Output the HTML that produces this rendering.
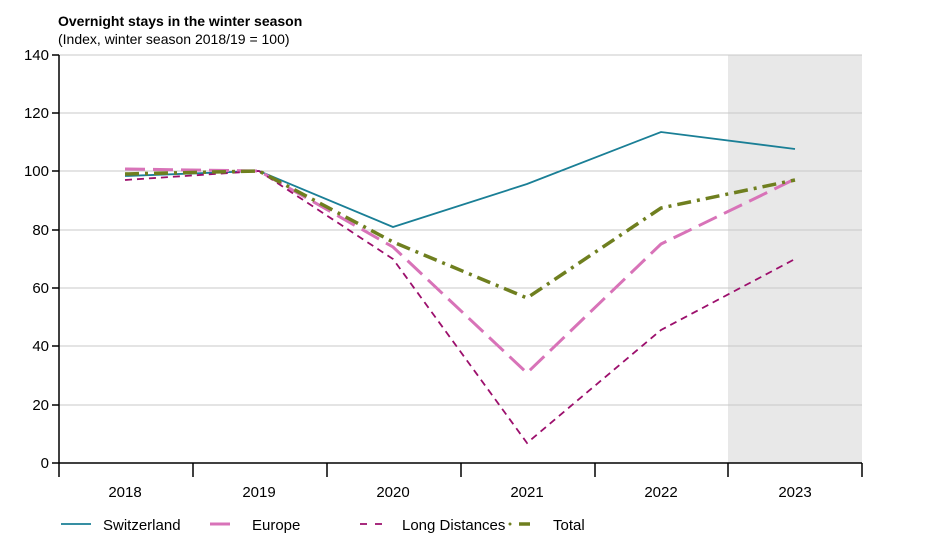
<!DOCTYPE html>
<html><head><style>
body{margin:0;background:#fff;}
svg{display:block;font-family:"Liberation Sans",Arial,sans-serif;}
</style></head><body>
<svg width="930" height="545" viewBox="0 0 930 545">
<text x="58" y="26" font-size="14" font-weight="bold" fill="#000">Overnight stays in the winter season</text>
<text x="58" y="44" font-size="14" fill="#000">(Index, winter season 2018/19 = 100)</text>
<rect x="728" y="55" width="134" height="408" fill="#e8e8e8"/>
<g stroke="#c8c8c8" stroke-width="1">
<line x1="59" x2="862" y1="55" y2="55"/><line x1="59" x2="862" y1="113" y2="113"/>
<line x1="59" x2="862" y1="171" y2="171"/><line x1="59" x2="862" y1="230" y2="230"/>
<line x1="59" x2="862" y1="288" y2="288"/><line x1="59" x2="862" y1="346" y2="346"/>
<line x1="59" x2="862" y1="405" y2="405"/>
</g>
<g stroke="#000" stroke-width="1.5">
<line x1="59" y1="55" x2="59" y2="463"/>
<line x1="52" y1="463" x2="862" y2="463"/>
<line x1="52" y1="55" x2="59" y2="55"/><line x1="52" y1="113" x2="59" y2="113"/>
<line x1="52" y1="171" x2="59" y2="171"/><line x1="52" y1="230" x2="59" y2="230"/>
<line x1="52" y1="288" x2="59" y2="288"/><line x1="52" y1="346" x2="59" y2="346"/>
<line x1="52" y1="405" x2="59" y2="405"/>
<line x1="59" y1="463" x2="59" y2="477"/><line x1="193" y1="463" x2="193" y2="477"/>
<line x1="327" y1="463" x2="327" y2="477"/><line x1="461" y1="463" x2="461" y2="477"/>
<line x1="595" y1="463" x2="595" y2="477"/><line x1="728" y1="463" x2="728" y2="477"/>
<line x1="862" y1="463" x2="862" y2="477"/>
</g>
<g font-size="15" fill="#000" text-anchor="end">
<text x="49" y="60">140</text><text x="49" y="118">120</text><text x="49" y="176">100</text>
<text x="49" y="235">80</text><text x="49" y="293">60</text><text x="49" y="351">40</text>
<text x="49" y="410">20</text><text x="49" y="468">0</text>
</g>
<g font-size="15" fill="#000" text-anchor="middle">
<text x="125" y="497">2018</text><text x="259" y="497">2019</text><text x="393" y="497">2020</text>
<text x="527" y="497">2021</text><text x="661" y="497">2022</text><text x="795" y="497">2023</text>
</g>
<polyline fill="none" stroke="#1a7f96" stroke-width="1.8" points="125,176 259,171 393,227 527,184 661,132 795,149"/>
<polyline fill="none" stroke="#d873b8" stroke-width="3" stroke-dasharray="20,8" points="125,169 259,171 393,247 527,373 661,244 795,179"/>
<polyline fill="none" stroke="#9c0f6c" stroke-width="1.8" stroke-dasharray="7,5" points="125,180 259,171 393,259 527,443 661,330 795,259"/>
<polyline fill="none" stroke="#6f7f1f" stroke-width="3.5" stroke-dasharray="14,6,3,6" points="125,174 259,171 393,242 527,298 661,208 795,180"/>
<g font-size="15" fill="#000">
<line x1="61" y1="524" x2="91" y2="524" stroke="#1a7f96" stroke-width="1.8"/>
<text x="103" y="530">Switzerland</text>
<line x1="210" y1="524" x2="230" y2="524" stroke="#d873b8" stroke-width="3"/>
<text x="252" y="530">Europe</text>
<line x1="360" y1="524" x2="382" y2="524" stroke="#9c0f6c" stroke-width="1.8" stroke-dasharray="7,8"/>
<text x="402" y="530">Long Distances</text>
<circle cx="510" cy="524" r="1.5" fill="#6f7f1f"/>
<line x1="519" y1="524" x2="530" y2="524" stroke="#6f7f1f" stroke-width="3.5"/>
<text x="553" y="530">Total</text>
</g>
</svg>
</body></html>
